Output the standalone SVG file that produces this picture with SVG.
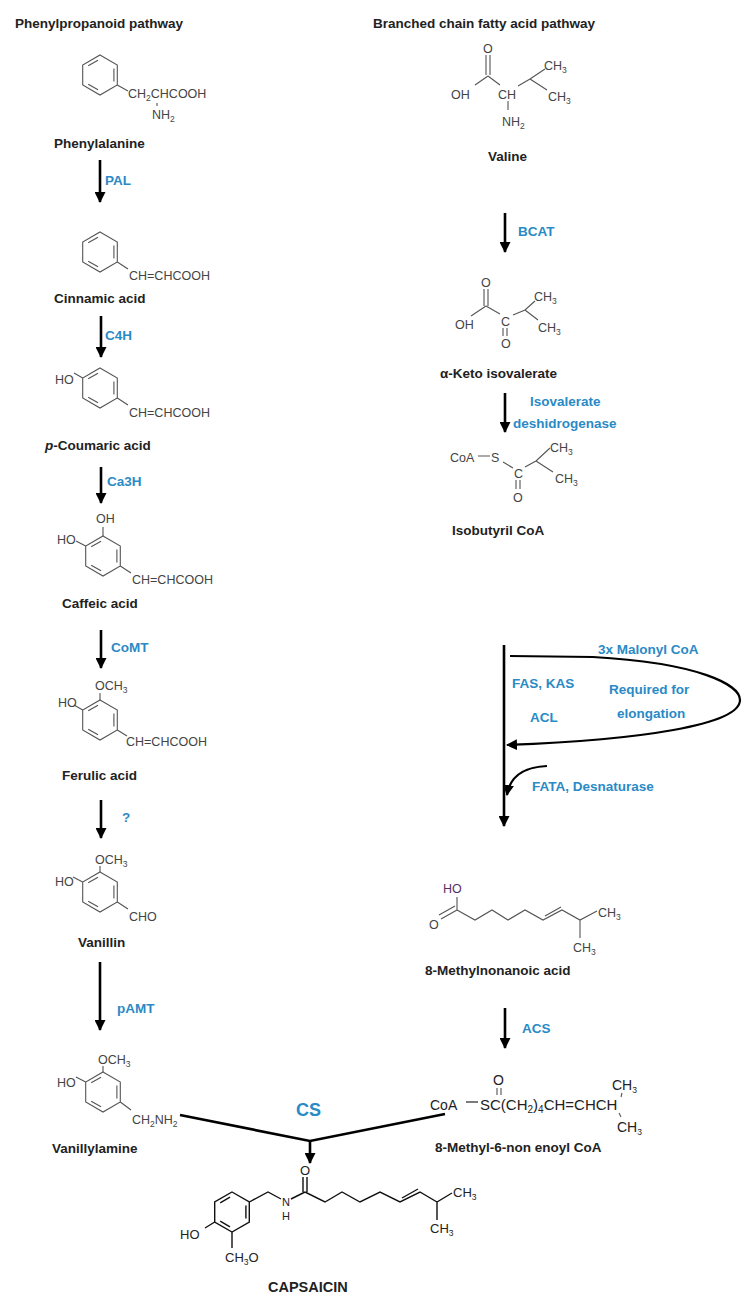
<svg xmlns="http://www.w3.org/2000/svg" xmlns:xlink="http://www.w3.org/1999/xlink" width="746" height="1302" viewBox="0 0 746 1302">
<style>
.t{font-family:"Liberation Sans",Arial,sans-serif;font-weight:bold;font-size:13.5px;fill:#222}
.e{font-family:"Liberation Sans",Arial,sans-serif;font-weight:bold;font-size:13.5px;fill:#2a8ac6}
.c{font-family:"Liberation Sans",Arial,sans-serif;font-size:12.5px;fill:#444}
.k{font-family:"Liberation Sans",Arial,sans-serif;font-size:13px;fill:#222}
.b{stroke:#555;stroke-width:1.1;fill:none}
.bk{stroke:#111;stroke-width:1.4;fill:none}
.ar{stroke:#000;stroke-width:2.6;fill:none}
.s{font-size:8.5px}
</style>
<defs>
<marker id="ah" markerUnits="userSpaceOnUse" markerWidth="11" markerHeight="11" refX="10" refY="5.5" orient="auto"><path d="M0,0 L11,5.5 L0,11 z" fill="#000"/></marker>
<g id="benz" class="b"><path d="M0,-20 L17.3,-10 L17.3,10 L0,20 L-17.3,10 L-17.3,-10 Z"/><path d="M13.9,-6.5 L13.9,6.5 M-2,14.8 L-11.8,9.2 M-11.8,-9.2 L-2,-14.8"/></g>
<g id="benzk" class="bk"><path d="M0,-20 L17.3,-10 L17.3,10 L0,20 L-17.3,10 L-17.3,-10 Z"/><path d="M13.9,-6.5 L13.9,6.5 M-2,14.8 L-11.8,9.2 M-11.8,-9.2 L-2,-14.8"/></g>
</defs>
<rect width="746" height="1302" fill="#fff"/>
<text class="t" x="15" y="28">Phenylpropanoid pathway</text>
<text class="t" x="373" y="28">Branched chain fatty acid pathway</text>

<g id="phenylalanine">
<use xlink:href="#benz" x="100" y="75"/>
<path class="b" d="M117.3,85 L128,91 M157,103 L157,106"/>
<text class="c" x="128" y="98">CH<tspan class="s" dy="3">2</tspan><tspan dy="-3">CHCOOH</tspan></text>
<text class="c" x="152" y="119">NH<tspan class="s" dy="3">2</tspan></text>
<text class="t" x="54" y="148">Phenylalanine</text>
</g>
<g id="cinnamic">
<use xlink:href="#benz" x="100" y="252"/>
<path class="b" d="M117.3,262 L128,269"/>
<text class="c" x="129" y="280">CH=CHCOOH</text>
<text class="t" x="54" y="303">Cinnamic acid</text>
</g>
<g id="coumaric">
<use xlink:href="#benz" x="100" y="388"/>
<path class="b" d="M82.7,378 L74,373 M117.3,398 L128,405"/>
<text class="c" x="55" y="384">HO</text>
<text class="c" x="129" y="417">CH=CHCOOH</text>
<text class="t" x="45" y="450"><tspan font-style="italic">p</tspan>-Coumaric acid</text>
</g>
<g id="caffeic">
<use xlink:href="#benz" x="103" y="556"/>
<path class="b" d="M103,536 L103,527 M85.7,546 L76,541 M120.3,566 L131,573"/>
<text class="c" x="96" y="523">OH</text>
<text class="c" x="57" y="544">HO</text>
<text class="c" x="132" y="584">CH=CHCOOH</text>
<text class="t" x="62" y="608">Caffeic acid</text>
</g>
<g id="ferulic">
<use xlink:href="#benz" x="100" y="720"/>
<path class="b" d="M100,700 L100,693 M82.7,710 L74,705 M117.3,730 L127,736"/>
<text class="c" x="95" y="690">OCH<tspan class="s" dy="3">3</tspan></text>
<text class="c" x="58" y="707">HO</text>
<text class="c" x="126" y="746">CH=CHCOOH</text>
<text class="t" x="62" y="780">Ferulic acid</text>
</g>
<g id="vanillin">
<use xlink:href="#benz" x="100" y="892"/>
<path class="b" d="M100,872 L100,866 M82.7,882 L73,877 M117.3,902 L128,909"/>
<text class="c" x="95" y="864">OCH<tspan class="s" dy="3">3</tspan></text>
<text class="c" x="55" y="886">HO</text>
<text class="c" x="129" y="921">CHO</text>
<text class="t" x="78" y="947">Vanillin</text>
</g>
<g id="vanillylamine">
<use xlink:href="#benz" x="103" y="1092"/>
<path class="b" d="M103,1072 L103,1066 M85.7,1082 L76,1077 M120.3,1102 L131,1110"/>
<text class="c" x="98" y="1064">OCH<tspan class="s" dy="3">3</tspan></text>
<text class="c" x="57" y="1087">HO</text>
<text class="c" x="132" y="1124">CH<tspan class="s" dy="3">2</tspan><tspan dy="-3">NH</tspan><tspan class="s" dy="3">2</tspan></text>
<text class="t" x="52" y="1153">Vanillylamine</text>
</g>

<g id="valine">
<path class="b" d="M486,55 L486,75 M490,55 L490,75 M488,76 L475,85 M488,76 L500,85 M508,101 L508,110 M518,86 L530,79 L545,69 M530,79 L547,90"/>
<text class="c" x="483" y="53">O</text>
<text class="c" x="451" y="99">OH</text>
<text class="c" x="498" y="99">CH</text>
<text class="c" x="544" y="70">CH<tspan class="s" dy="3">3</tspan></text>
<text class="c" x="548" y="101">CH<tspan class="s" dy="3">3</tspan></text>
<text class="c" x="502" y="126">NH<tspan class="s" dy="3">2</tspan></text>
<text class="t" x="488" y="161">Valine</text>
</g>
<g id="ketoisovalerate">
<path class="b" d="M484,289 L484,306 M488,289 L488,306 M486,306 L471,316 M486,306 L500,314 M503,328 L503,336 M507,328 L507,336 M513,315 L525,310 L535,301 M525,310 L538,320"/>
<text class="c" x="481" y="287">O</text>
<text class="c" x="455" y="329">OH</text>
<text class="c" x="501" y="326">C</text>
<text class="c" x="501" y="348">O</text>
<text class="c" x="534" y="301">CH<tspan class="s" dy="3">3</tspan></text>
<text class="c" x="538" y="332">CH<tspan class="s" dy="3">3</tspan></text>
<text class="t" x="440" y="378">α-Keto isovalerate</text>
</g>
<g id="isobutyrilcoa">
<path class="b" d="M478,456 L490,456 M503,462 L513,468 M516,480 L516,489 M520,480 L520,489 M525,467 L536,461 L550,448 M536,461 L553,472"/>
<text class="c" x="450" y="462">CoA</text>
<text class="c" x="491" y="462">S</text>
<text class="c" x="514" y="478">C</text>
<text class="c" x="513" y="502">O</text>
<text class="c" x="550" y="452">CH<tspan class="s" dy="3">3</tspan></text>
<text class="c" x="555" y="483">CH<tspan class="s" dy="3">3</tspan></text>
<text class="t" x="452" y="535">Isobutyril CoA</text>
</g>
<g id="methylnonanoic">
<path class="b" d="M457,910 L457,897 M457,910 L441,919 M455,906 L439,915 M457,910 L475,920 L492,910 L508,920 L525,910 L543,920 L562,910 L580,920 L597,911 M545,916 L561,907 M580,920 L580,938"/>
<text class="c" x="443" y="893" style="fill:#536">HO</text>
<text class="c" x="429" y="929">O</text>
<text class="c" x="598" y="917">CH<tspan class="s" dy="3">3</tspan></text>
<text class="c" x="573" y="952">CH<tspan class="s" dy="3">3</tspan></text>
<text class="t" x="425" y="975">8-Methylnonanoic acid</text>
</g>
<g id="enoylcoa">
<path class="bk" d="M466,1102 L478,1102" style="stroke-width:1.1"/>
<path class="b" d="M497,1088 L497,1095 M501,1088 L501,1095 M622,1093 L621,1097 M619,1113 L621,1117"/>
<text class="k" x="493" y="1085" style="font-size:14px">O</text>
<text class="k" x="430" y="1110" style="font-size:14px">CoA</text>
<text class="k" x="480" y="1110" style="font-size:15px">SC(CH<tspan class="s" dy="3" style="font-size:10px">2</tspan><tspan dy="-3">)</tspan><tspan class="s" dy="3" style="font-size:10px">4</tspan><tspan dy="-3">CH=CHCH</tspan></text>
<text class="k" x="612" y="1090" style="font-size:14px">CH<tspan class="s" dy="3">3</tspan></text>
<text class="k" x="617" y="1132" style="font-size:14px">CH<tspan class="s" dy="3">3</tspan></text>
<text class="t" x="435" y="1152">8-Methyl-6-non enoyl CoA</text>
</g>
<g id="capsaicin">
<use xlink:href="#benzk" x="232" y="1212"/>
<path class="bk" d="M249.3,1202 L268,1192 L281,1199 M291,1199 L305,1192 M214.7,1222 L205,1228 M232,1232 L232,1248 M303,1192 L303,1177 M307,1192 L307,1177 M305,1192 L325,1202 L342,1192 L360,1202 L380,1192 L400,1202 L420,1192 L437,1202 L452,1193 M402,1198 L418,1189 M437,1202 L437,1220"/>
<text class="k" x="282" y="1206" style="font-size:11px">N</text>
<text class="k" x="282" y="1220" style="font-size:11px">H</text>
<text class="k" x="300" y="1175">O</text>
<text class="k" x="180" y="1239">HO</text>
<text class="k" x="225" y="1262">CH<tspan class="s" dy="3">3</tspan><tspan dy="-3">O</tspan></text>
<text class="k" x="453" y="1197">CH<tspan class="s" dy="3">3</tspan></text>
<text class="k" x="430" y="1233">CH<tspan class="s" dy="3">3</tspan></text>
<text class="t" x="268" y="1292" style="font-size:14.5px">CAPSAICIN</text>
</g>

<g id="connectors">
<path class="ar" d="M100,160 L100,202" marker-end="url(#ah)"/>
<path class="ar" d="M101,316 L101,357" marker-end="url(#ah)"/>
<path class="ar" d="M101,467 L101,503" marker-end="url(#ah)"/>
<path class="ar" d="M101,630 L101,668" marker-end="url(#ah)"/>
<path class="ar" d="M101,800 L101,838" marker-end="url(#ah)"/>
<path class="ar" d="M100,962 L100,1030" marker-end="url(#ah)"/>
<path class="ar" d="M505,213 L505,252" marker-end="url(#ah)"/>
<path class="ar" d="M505,393 L505,432" marker-end="url(#ah)"/>
<path class="ar" d="M504,645 L504,826" marker-end="url(#ah)"/>
<path class="ar" style="stroke-width:2.2" d="M510,656 L593,657 C700,663 740,685 740,700 C740,725 640,740 507,745" marker-end="url(#ah)"/>
<path class="ar" style="stroke-width:2.2" d="M547,766 C525,767 510,775 507,795" marker-end="url(#ah)"/>
<path class="ar" d="M505,1008 L505,1048" marker-end="url(#ah)"/>
<path class="ar" d="M180,1115 L310,1141 L445,1114 M310,1141 L310,1163" marker-end="url(#ah)"/>
</g>
<g id="enzymes">
<text class="e" x="105" y="185">PAL</text>
<text class="e" x="105" y="340">C4H</text>
<text class="e" x="107" y="486">Ca3H</text>
<text class="e" x="111" y="652">CoMT</text>
<text class="e" x="122" y="822">?</text>
<text class="e" x="117" y="1013">pAMT</text>
<text class="e" x="518" y="236">BCAT</text>
<text class="e" x="530" y="406">Isovalerate</text>
<text class="e" x="513" y="428">deshidrogenase</text>
<text class="e" x="598" y="654">3x Malonyl CoA</text>
<text class="e" x="512" y="688">FAS, KAS</text>
<text class="e" x="530" y="722">ACL</text>
<text class="e" x="609" y="694">Required for</text>
<text class="e" x="617" y="718">elongation</text>
<text class="e" x="532" y="791">FATA, Desnaturase</text>
<text class="e" x="522" y="1033">ACS</text>
<text class="e" x="296" y="1116" style="font-size:18px">CS</text>
</g>
</svg>
